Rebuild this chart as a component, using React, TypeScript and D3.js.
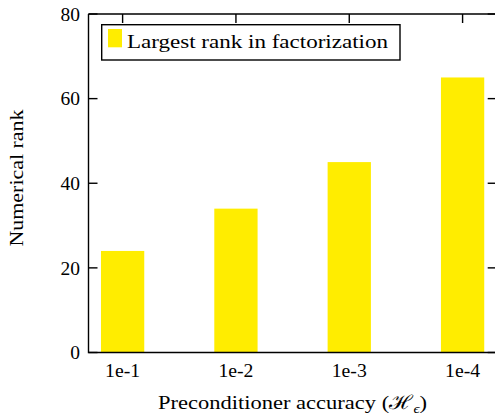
import React from "react";
import * as d3 from "d3";

const categories = ["1e-1", "1e-2", "1e-3", "1e-4"];
const values = [24, 34, 45, 65];
const yTicks = [0, 20, 40, 60, 80];
const legendLabel = "Largest rank in factorization";

const W = 495, H = 417;
const left = 88.5, top = 14, bottom = 352.5, right = 496.7;
const font = "'Liberation Serif', 'DejaVu Serif', serif";
const fs = 19.5;

export default function App() {
  const x = d3.scaleBand<string>().domain(categories).range([left, right]).paddingInner(0.618).paddingOuter(0.11);
  const y = d3.scaleLinear().domain([0, 80]).range([bottom, top]);
  const bw = x.bandwidth();
  return (
    <svg width={W} height={H} style={{ position: "absolute", left: 0, top: 0 }} fontFamily={font}>
      <rect x={0} y={0} width={W} height={H} fill="#fff" />
      {categories.map((c) => {
        const cx = x(c)! + bw / 2;
        return (
          <g key={c}>
            <line x1={cx} x2={cx} y1={top} y2={top + 9} stroke="#000" strokeWidth={1.4} />
            <text x={cx} y={370} dy="0.35em" textAnchor="middle" fontSize={fs} textLength={35} lengthAdjust="spacingAndGlyphs">{c}</text>
          </g>
        );
      })}
      {categories.map((c, i) => (
        <rect key={c} x={x(c)} y={y(values[i])} width={bw} height={bottom - y(values[i])} fill="#ffed00" />
      ))}
      {/* frame */}
      <path d={`M${left},${top}H${W}M${left},${top}V${bottom}H${W}`} fill="none" stroke="#000" strokeWidth={1.4} />
      <path d={`M${right},${top}V${bottom}`} fill="none" stroke="#000" strokeWidth={1.4} />
      {yTicks.map((t) => (
        <g key={t}>
          <line x1={left} x2={left + 9} y1={y(t)} y2={y(t)} stroke="#000" strokeWidth={1.4} />
          <line x1={right - 9} x2={right} y1={y(t)} y2={y(t)} stroke="#000" strokeWidth={1.4} />
          <text x={80} y={y(t)} dy="0.35em" textAnchor="end" fontSize={fs}>{t}</text>
        </g>
      ))}
      {/* legend */}
      <rect x={101.7} y={24.7} width={298.3} height={35.3} fill="#fff" stroke="#000" strokeWidth={1.4} />
      <rect x={108} y={29} width={14} height={18.3} fill="#ffed00" />
      <text x={127} y={48} fontSize={fs} textLength={261} lengthAdjust="spacingAndGlyphs">{legendLabel}</text>
      <text x={158} y={402} dy="0.35em" fontSize={fs} textLength={269} lengthAdjust="spacingAndGlyphs">
        Preconditioner accuracy (<tspan>ℋ</tspan><tspan fontSize={13} dy={4} fontStyle="italic">ϵ</tspan><tspan dy={-4}>)</tspan>
      </text>
      <text transform={`translate(16,178) rotate(-90)`} dy="0.35em" textAnchor="middle" fontSize={fs} textLength={137} lengthAdjust="spacingAndGlyphs">Numerical rank</text>
    </svg>
  );
}
